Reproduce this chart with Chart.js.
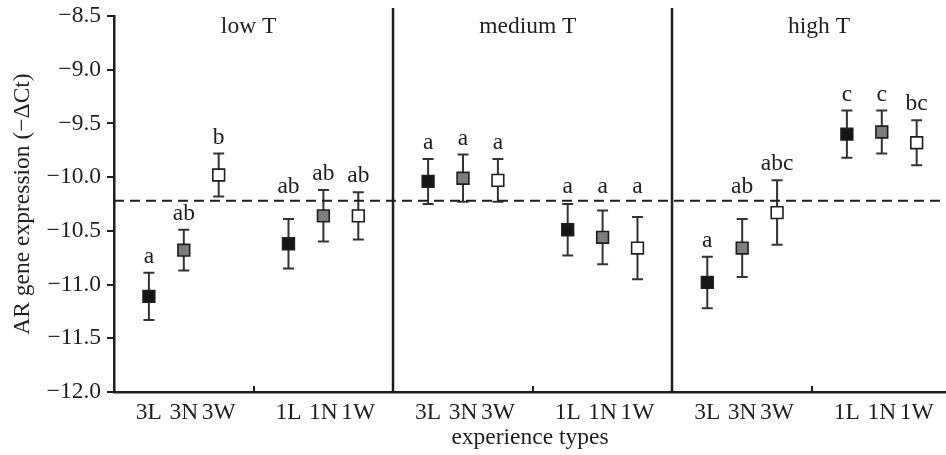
<!DOCTYPE html>
<html>
<head>
<meta charset="utf-8">
<script src="https://cdn.jsdelivr.net/npm/chart.js@4"></script>
<style>
  html, body { margin: 0; padding: 0; background: #fff; }
  #wrap { width: 946px; height: 455px; }
</style>
</head>
<body>
<div id="wrap"><canvas id="chart"></canvas></div>
<script>
// ===== DATA =====
const panelNames = ["low T", "medium T", "high T"];
const typeLabels = ["3L", "3N", "3W", "1L", "1N", "1W"];
const slotX      = [0.125, 0.25, 0.375, 0.625, 0.75, 0.875];

const lowMeans   = [-11.11, -10.68, -9.98, -10.62, -10.36, -10.36];
const lowErr     = [0.22, 0.19, 0.20, 0.23, 0.24, 0.22];
const lowLetters = ["a", "ab", "b", "ab", "ab", "ab"];

const medMeans   = [-10.04, -10.01, -10.03, -10.49, -10.56, -10.66];
const medErr     = [0.21, 0.22, 0.20, 0.24, 0.25, 0.29];
const medLetters = ["a", "a", "a", "a", "a", "a"];

const highMeans   = [-10.98, -10.66, -10.33, -9.60, -9.58, -9.68];
const highErr     = [0.24, 0.27, 0.30, 0.22, 0.20, 0.21];
const highLetters = ["a", "ab", "abc", "c", "c", "bc"];

const baseline = -10.22;
const yTicks   = [-12.0, -11.5, -11.0, -10.5, -10.0, -9.5, -9.0, -8.5];

// ===== BUILD POINTS =====
const allMeans   = [lowMeans, medMeans, highMeans];
const allErr     = [lowErr, medErr, highErr];
const allLetters = [lowLetters, medLetters, highLetters];

const points = [];
allMeans.forEach((means, p) => {
  means.forEach((m, i) => {
    points.push({ x: p + slotX[i], y: m, err: allErr[p][i], letter: allLetters[p][i], kind: i % 3 });
  });
});

const xTickValues = [];
const xTickNames  = {};
panelNames.forEach((_, p) => {
  slotX.forEach((s, i) => {
    const v = +(p + s).toFixed(3);
    xTickValues.push(v);
    xTickNames[v] = typeLabels[i];
  });
});

const X_MAX = 2.98;
const FONT  = "'Liberation Serif', 'DejaVu Serif', serif";
const FSIZE = 23.5;
const INK   = "#1e1e1e";
const titleShift = [-5, -5, 7];   // px nudge of the panel headings

const fills = ["#161616", "#7d7d7d", "#ffffff"];
const kindSets = [0, 1, 2].map(k => ({
  type: "scatter",
  data: points.filter(pt => pt.kind === k),
  pointStyle: "rect",
  pointRadius: 8.3,
  pointHoverRadius: 8.3,
  pointBackgroundColor: fills[k],
  pointBorderColor: INK,
  pointBorderWidth: 1.6,
  showLine: false
}));

// ===== DECORATION PLUGIN =====
const decor = {
  id: "decor",
  beforeDatasetsDraw(chart) {
    const { ctx, chartArea: a, scales: { x, y } } = chart;
    ctx.save();
    // panel separators
    ctx.strokeStyle = INK;
    ctx.lineWidth = 2.5;
    [1, 2].forEach(v => {
      const px = Math.round(x.getPixelForValue(v));
      ctx.beginPath();
      ctx.moveTo(px, a.top - 8);
      ctx.lineTo(px, a.bottom);
      ctx.stroke();
    });
    // minor ticks at panel middles
    ctx.lineWidth = 2;
    [0.5, 1.5, 2.5].forEach(v => {
      const px = Math.round(x.getPixelForValue(v));
      ctx.beginPath();
      ctx.moveTo(px, a.bottom);
      ctx.lineTo(px, a.bottom - 6);
      ctx.stroke();
    });
    // error bars
    ctx.strokeStyle = "#333";
    ctx.lineWidth = 2;
    points.forEach(pt => {
      const px = x.getPixelForValue(pt.x);
      const t = y.getPixelForValue(pt.y + pt.err);
      const b = y.getPixelForValue(pt.y - pt.err);
      ctx.beginPath();
      ctx.moveTo(px, t); ctx.lineTo(px, b);
      ctx.moveTo(px - 5.5, t); ctx.lineTo(px + 5.5, t);
      ctx.moveTo(px - 5.5, b); ctx.lineTo(px + 5.5, b);
      ctx.stroke();
    });
    ctx.restore();
  },
  afterDraw(chart) {
    const { ctx, chartArea: a, scales: { x, y } } = chart;
    const dashY = y.getPixelForValue(baseline);
    ctx.save();
    ctx.fillStyle = INK;
    ctx.textAlign = "center";
    ctx.font = FSIZE + "px " + FONT;
    ctx.textBaseline = "middle";
    panelNames.forEach((name, p) => {
      ctx.fillText(name, x.getPixelForValue(p + 0.5) + titleShift[p], a.top + 11);
    });
    ctx.textBaseline = "alphabetic";
    points.forEach(pt => {
      const px = x.getPixelForValue(pt.x);
      const t = y.getPixelForValue(pt.y + pt.err);
      let base = t - 10;
      // keep letters clear of the dashed reference line
      if (Math.abs(base - 5 - dashY) < 13) base = dashY - 8;
      ctx.fillText(pt.letter, px, base);
    });
    ctx.restore();
  }
};

// ===== CHART =====
new Chart(document.getElementById("chart"), {
  type: "scatter",
  data: {
    datasets: [
      {
        type: "line",
        data: [{ x: 0, y: baseline }, { x: X_MAX, y: baseline }],
        borderColor: INK,
        borderWidth: 2,
        borderDash: [10, 6],
        pointRadius: 0,
        fill: false
      },
      ...kindSets
    ]
  },
  options: {
    responsive: true,
    maintainAspectRatio: false,
    animation: false,
    events: [],
    layout: { autoPadding: false, padding: { top: 16, right: 0, left: 0, bottom: 0 } },
    plugins: { legend: { display: false }, tooltip: { enabled: false } },
    scales: {
      x: {
        type: "linear",
        min: 0,
        max: X_MAX,
        afterBuildTicks: s => { s.ticks = xTickValues.map(v => ({ value: v })); },
        afterFit: s => { s.height = 63; s.paddingLeft = 0; s.paddingRight = 0; },
        grid: { display: false, drawTicks: false },
        border: { display: true, color: INK, width: 2.5 },
        ticks: {
          autoSkip: false,
          maxRotation: 0,
          padding: 7,
          color: INK,
          font: { family: FONT, size: FSIZE },
          callback: v => xTickNames[+v.toFixed(3)] || ""
        },
        title: {
          display: true,
          text: "experience types",
          color: INK,
          font: { family: FONT, size: FSIZE },
          padding: { top: 0, bottom: 3 }
        }
      },
      y: {
        min: -12,
        max: -8.5,
        afterBuildTicks: s => { s.ticks = yTicks.map(v => ({ value: v })); },
        afterFit: s => { s.width = 114; s.paddingTop = 0; s.paddingBottom = 0; },
        grid: { display: true, drawOnChartArea: false, drawTicks: true, tickLength: 7, color: INK, lineWidth: 2 },
        border: { display: true, color: INK, width: 2.5 },
        ticks: {
          padding: 6,
          color: INK,
          font: { family: FONT, size: FSIZE },
          callback: v => v.toFixed(1).replace("-", "\u2212")
        },
        title: {
          display: true,
          text: "AR gene expression (\u2212\u0394Ct)",
          color: INK,
          font: { family: FONT, size: FSIZE },
          padding: { top: 9, bottom: 4 }
        }
      }
    }
  },
  plugins: [decor]
});
</script>
</body>
</html>
